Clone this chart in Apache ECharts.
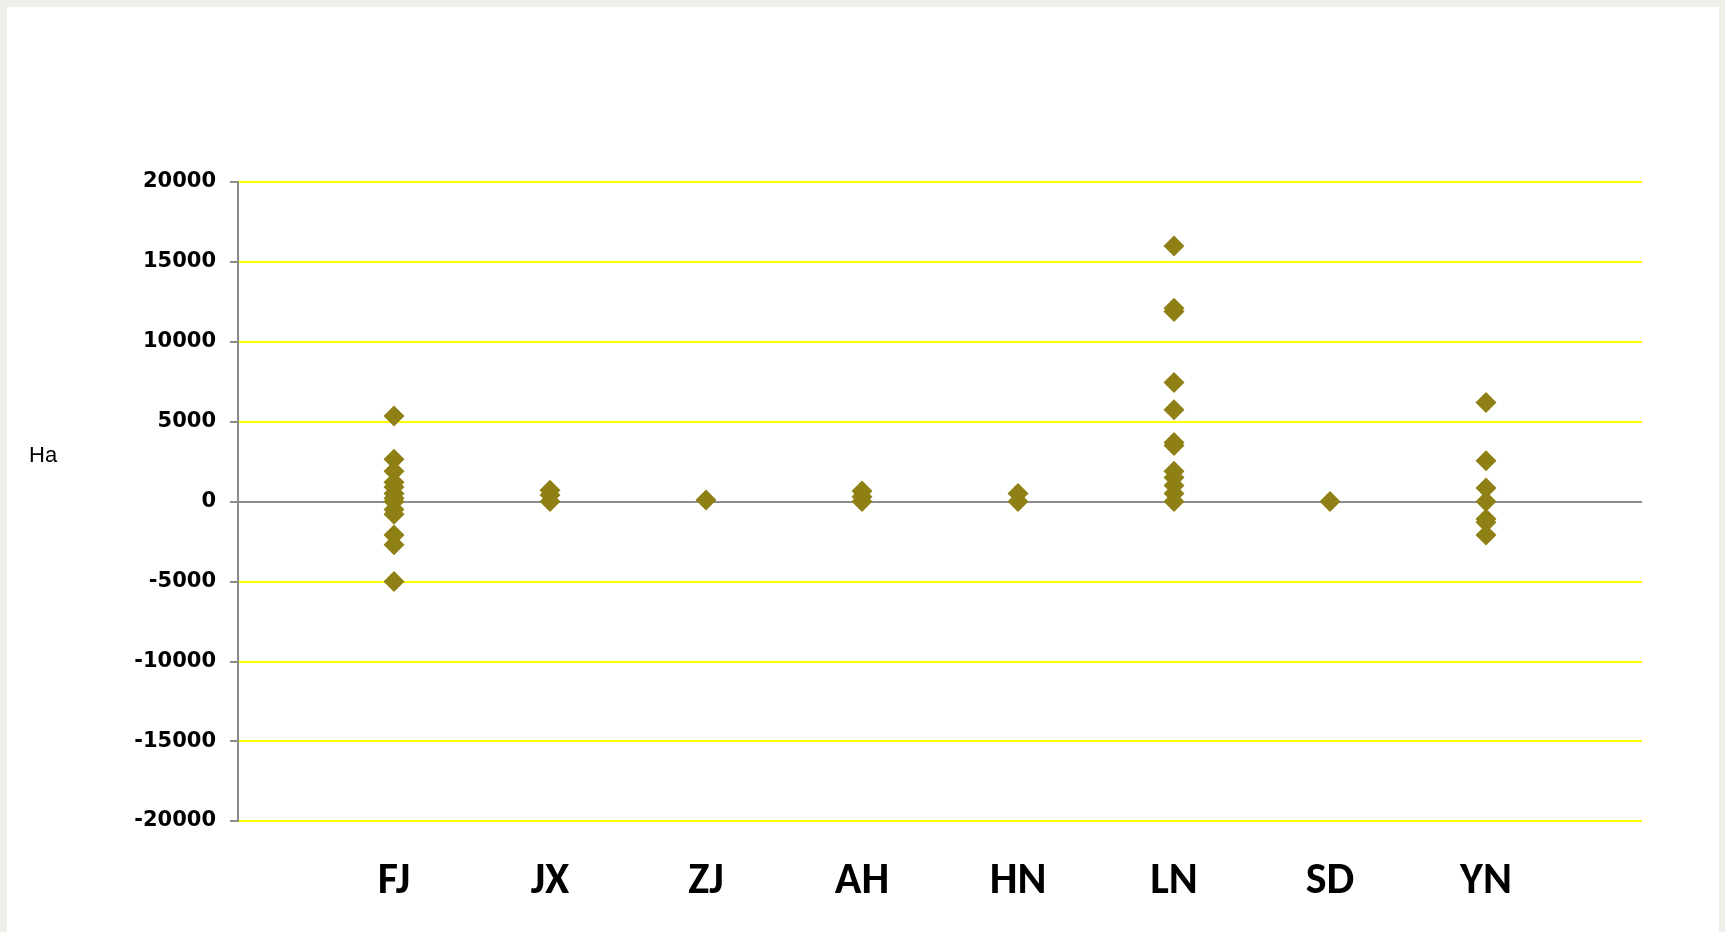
<!DOCTYPE html>
<html>
<head>
<meta charset="utf-8">
<script src="https://cdn.jsdelivr.net/npm/echarts@6/dist/echarts.min.js"></script>
<style>
  html, body { margin: 0; padding: 0; background: #EFEEE8; }
  #chart { width: 1725px; height: 932px; }
</style>
</head>
<body>
<div id="chart"></div>
<script>
// provinces, placed at x = 1..8
var provinces = ['FJ', 'JX', 'ZJ', 'AH', 'HN', 'LN', 'SD', 'YN']

// values (Ha)
var fjValues = [5350, 2650, 1900, 1200, 900, 500, 200, 0, -500, -800, -2100, -2700, -5000]
var jxValues = [700, 400, 0]
var zjValues = [100]
var ahValues = [650, 300, 0]
var hnValues = [500, 0]
var lnValues = [16000, 12100, 11900, 7450, 5750, 3700, 3500, 1900, 1500, 1000, 500, 0]
var sdValues = [0]
var ynValues = [6200, 2550, 850, 0, -1100, -1300, -2100]

var yTicks = [-20000, -15000, -10000, -5000, 0, 5000, 10000, 15000, 20000]

var groups = [fjValues, jxValues, zjValues, ahValues, hnValues, lnValues, sdValues, ynValues]
var points = []
groups.forEach(function (vals, i) {
  vals.forEach(function (v) {
    points.push([i + 1, v])
  })
})

// zero line grey, the rest yellow
var splitColors = yTicks.map(function (t) { return t === 0 ? '#8C8C8C' : '#FFFF00' })

var myChart = echarts.init(document.getElementById('chart'))
myChart.setOption({
  animation: false,
  graphic: [
    {
      type: 'rect',
      shape: { x: 7, y: 7, width: 1712, height: 925 },
      style: { fill: '#FFFFFF' },
      z: -10
    },
    {
      type: 'text',
      left: 29,
      top: 445,
      style: {
        text: 'Ha',
        font: '22px "Liberation Sans", Arial, sans-serif',
        fill: '#000'
      }
    }
  ],
  grid: {
    left: 238,
    top: 182,
    right: 83,
    bottom: 111,
    containLabel: false
  },
  xAxis: {
    type: 'value',
    min: 0,
    max: 9,
    interval: 1,
    axisLine: { show: false },
    axisTick: { show: false },
    splitLine: { show: false },
    axisLabel: {
      margin: 39,
      fontFamily: 'Carlito, "Liberation Sans Narrow", "Noto Sans", sans-serif',
      fontWeight: 'bold',
      fontSize: 44,
      color: '#000',
      formatter: function (v) {
        return provinces[v - 1] || ''
      }
    }
  },
  yAxis: {
    type: 'value',
    min: -20000,
    max: 20000,
    interval: 5000,
    axisLine: { show: true, lineStyle: { color: '#8C8C8C', width: 2 } },
    axisTick: { show: true, length: 8, lineStyle: { color: '#8C8C8C', width: 2 } },
    axisLabel: {
      margin: 22,
      fontFamily: '"DejaVu Sans", Verdana, sans-serif',
      fontWeight: 'bold',
      fontSize: 21,
      color: '#000',
      formatter: function (v) { return String(v) }
    },
    splitLine: {
      show: true,
      lineStyle: { color: splitColors, width: 2 }
    }
  },
  series: [
    {
      type: 'scatter',
      symbol: 'diamond',
      symbolSize: 21,
      itemStyle: { color: '#8F8015', opacity: 1 },
      data: points
    }
  ]
})
</script>
</body>
</html>
